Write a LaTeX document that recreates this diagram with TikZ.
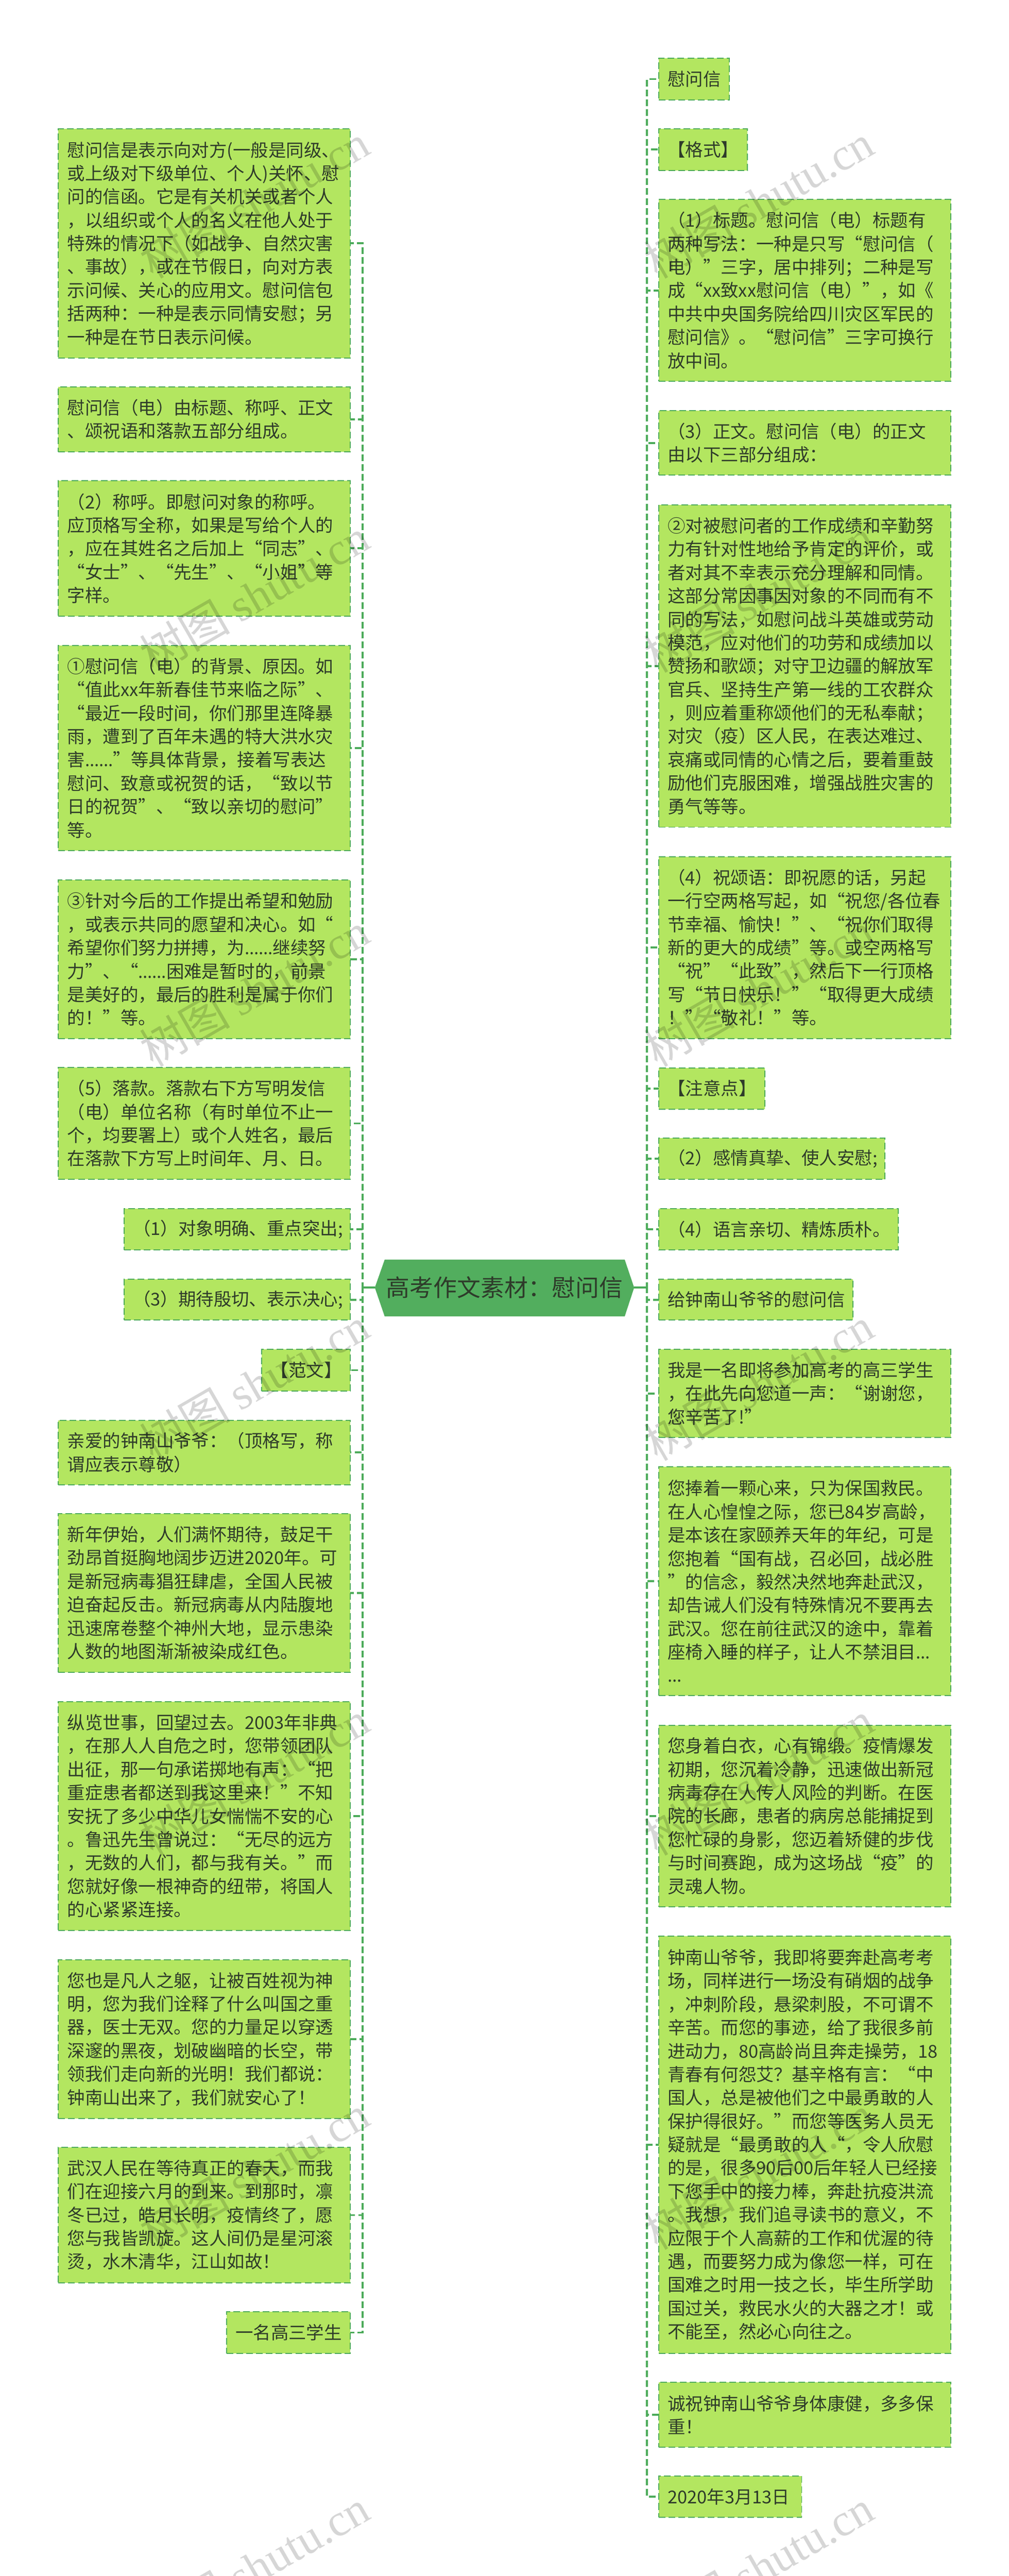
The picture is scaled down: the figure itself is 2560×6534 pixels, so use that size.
\documentclass[tikz,border=0pt]{standalone}
\usepackage{fontspec}
\setmainfont{Noto Sans CJK SC}
\newfontfamily\wmlat{Liberation Serif}
\newfontfamily\ellf{Noto Sans}
\newcommand\eld{{\ellf …}}
\definecolor{boxfill}{HTML}{B3E660}
\definecolor{linegreen}{HTML}{4CAB5A}
\definecolor{rootfill}{HTML}{52AE5E}
\definecolor{inkc}{HTML}{2E3B2A}
\tikzset{
  tnode/.style={draw=linegreen,fill=boxfill,line width=2.5pt,dash pattern=on 17pt off 8pt,
    inner xsep=23pt,inner ysep=0pt,outer sep=0pt,text=inkc,align=left,
    font=\fontsize{45}{59.3}\selectfont},
  conn/.style={draw=linegreen,line width=5pt,dash pattern=on 17pt off 8pt,dash phase=3.5pt},
  rootstub/.style={draw=linegreen,line width=5pt},
  wmark/.style={rotate=30,text=black,text opacity=0.16,font=\fontsize{115}{120}\selectfont,inner sep=0pt},
}
\newcommand\tb[6]{%
  \pgfmathsetmacro\ww{#4-#2-46}\pgfmathsetmacro\hh{#5-#3}%
  \node[tnode,text width=\ww pt,minimum height=\hh pt,anchor=north west] (#1) at (#2,#3) {#6};}
\begin{document}
\begin{tikzpicture}[x=1pt,y=-1pt]
\useasboundingbox (0,0) rectangle (2560,6534);
\fill[white] (0,0) rectangle (2560,6534);
\coordinate (lt) at (920,3266);
\coordinate (rt) at (1641.5,3266);
% left column
\tb{l1}{148}{326.6}{889}{908}{慰问信是表示向对方(一般是同级、\\或上级对下级单位、个人)关怀、慰\\问的信函。它是有关机关或者个人\\，以组织或个人的名义在他人处于\\特殊的情况下（如战争、自然灾害\\、事故），或在节假日，向对方表\\示问候、关心的应用文。慰问信包\\括两种：一种是表示同情安慰；另\\一种是在节日表示问候。}
\tb{l2}{148}{981.5}{889}{1146}{慰问信（电）由标题、称呼、正文\\、颂祝语和落款五部分组成。}
\tb{l3}{148}{1219.4}{889}{1562.5}{（2）称呼。即慰问对象的称呼。\\应顶格写全称，如果是写给个人的\\，应在其姓名之后加上“同志”、\\“女士”、“先生”、“小姐”等\\字样。}
\tb{l4}{148}{1637}{889}{2157.5}{①慰问信（电）的背景、原因。如\\“值此xx年新春佳节来临之际”、\\“最近一段时间，你们那里连降暴\\雨，遭到了百年未遇的特大洪水灾\\害\eld\eld”等具体背景，接着写表达\\慰问、致意或祝贺的话，“致以节\\日的祝贺”、“致以亲切的慰问”\\等。}
\tb{l5}{148}{2232}{889}{2635}{③针对今后的工作提出希望和勉励\\，或表示共同的愿望和决心。如“\\希望你们努力拼搏，为\eld\eld 继续努\\力”、“\eld\eld 困难是暂时的，前景\\是美好的，最后的胜利是属于你们\\的！”等。}
\tb{l6}{148}{2708}{889}{2991}{（5）落款。落款右下方写明发信\\（电）单位名称（有时单位不止一\\个，均要署上）或个人姓名，最后\\在落款下方写上时间年、月、日。}
\tb{l7}{314.5}{3066}{889}{3170}{（1）对象明确、重点突出;}
\tb{l8}{314.5}{3245}{889}{3348}{（3）期待殷切、表示决心;}
\tb{l9}{664}{3423}{889}{3528}{【范文】}
\tb{l10}{148}{3602.6}{889}{3766}{亲爱的钟南山爷爷：（顶格写，称\\谓应表示尊敬）}
\tb{l11}{148}{3839}{889}{4242}{新年伊始，人们满怀期待，鼓足干\\劲昂首挺胸地阔步迈进2020年。可\\是新冠病毒猖狂肆虐，全国人民被\\迫奋起反击。新冠病毒从内陆腹地\\迅速席卷整个神州大地，显示患染\\人数的地图渐渐被染成红色。}
\tb{l12}{148}{4316}{889}{4896.6}{纵览世事，回望过去。2003年非典\\，在那人人自危之时，您带领团队\\出征，那一句承诺掷地有声：“把\\重症患者都送到我这里来！”不知\\安抚了多少中华儿女惴惴不安的心\\。鲁迅先生曾说过：“无尽的远方\\，无数的人们，都与我有关。”而\\您就好像一根神奇的纽带，将国人\\的心紧紧连接。}
\tb{l13}{148}{4970.5}{889}{5373.7}{您也是凡人之躯，让被百姓视为神\\明，您为我们诠释了什么叫国之重\\器，医士无双。您的力量足以穿透\\深邃的黑夜，划破幽暗的长空，带\\领我们走向新的光明！我们都说：\\钟南山出来了，我们就安心了！}
\tb{l14}{148}{5447}{889}{5790}{武汉人民在等待真正的春天，而我\\们在迎接六月的到来。到那时，凛\\冬已过，皓月长明，疫情终了，愿\\您与我皆凯旋。这人间仍是星河滚\\烫，水木清华，江山如故！}
\tb{l15}{574.5}{5864}{889}{5969}{一名高三学生}
% right column
\tb{r1}{1671}{148}{1851}{253}{慰问信}
\tb{r2}{1671}{327}{1896}{432}{【格式】}
\tb{r3}{1671}{506}{2412}{967}{（1）标题。慰问信（电）标题有\\两种写法：一种是只写“慰问信（\\电）”三字，居中排列；二种是写\\成“xx致xx慰问信（电）”，如《\\中共中央国务院给四川灾区军民的\\慰问信》。“慰问信”三字可换行\\放中间。}
\tb{r4}{1671}{1042}{2412}{1205}{（3）正文。慰问信（电）的正文\\由以下三部分组成：}
\tb{r5}{1671}{1280.5}{2412}{2098}{②对被慰问者的工作成绩和辛勤努\\力有针对性地给予肯定的评价，或\\者对其不幸表示充分理解和同情。\\这部分常因事因对象的不同而有不\\同的写法，如慰问战斗英雄或劳动\\模范，应对他们的功劳和成绩加以\\赞扬和歌颂；对守卫边疆的解放军\\官兵、坚持生产第一线的工农群众\\，则应着重称颂他们的无私奉献；\\对灾（疫）区人民，在表达难过、\\哀痛或同情的心情之后，要着重鼓\\励他们克服困难，增强战胜灾害的\\勇气等等。}
\tb{r6}{1671}{2173}{2412}{2634}{（4）祝颂语：即祝愿的话，另起\\一行空两格写起，如“祝您/各位春\\节幸福、愉快！”、“祝你们取得\\新的更大的成绩”等。或空两格写\\“祝”“此致”，然后下一行顶格\\写“节日快乐！”“取得更大成绩\\！”“敬礼！”等。}
\tb{r7}{1671}{2709}{1940.6}{2813}{【注意点】}
\tb{r8}{1671}{2887}{2245.6}{2991}{（2）感情真挚、使人安慰;}
\tb{r9}{1671}{3066}{2279.6}{3170}{（4）语言亲切、精炼质朴。}
\tb{r10}{1671}{3245}{2164}{3348}{给钟南山爷爷的慰问信}
\tb{r11}{1671}{3423}{2412}{3646}{我是一名即将参加高考的高三学生\\，在此先向您道一声：“谢谢您，\\您辛苦了!”}
\tb{r12}{1671}{3720.5}{2412}{4301}{您捧着一颗心来，只为保国救民。\\在人心惶惶之际，您已84岁高龄，\\是本该在家颐养天年的年纪，可是\\您抱着“国有战，召必回，战必胜\\”的信念，毅然决然地奔赴武汉，\\却告诫人们没有特殊情况不要再去\\武汉。您在前往武汉的途中，靠着\\座椅入睡的样子，让人不禁泪目\eld\\\eld}
\tb{r13}{1671}{4376}{2412}{4836.6}{您身着白衣，心有锦缎。疫情爆发\\初期，您沉着冷静，迅速做出新冠\\病毒存在人传人风险的判断。在医\\院的长廊，患者的病房总能捕捉到\\您忙碌的身影，您迈着矫健的步伐\\与时间赛跑，成为这场战“疫”的\\灵魂人物。}
\tb{r14}{1671}{4911}{2412}{5969}{钟南山爷爷，我即将要奔赴高考考\\场，同样进行一场没有硝烟的战争\\，冲刺阶段，悬梁刺股，不可谓不\\辛苦。而您的事迹，给了我很多前\\进动力，80高龄尚且奔走操劳，18\\青春有何怨艾？基辛格有言：“中\\国人，总是被他们之中最勇敢的人\\保护得很好。”而您等医务人员无\\疑就是“最勇敢的人“，令人欣慰\\的是，很多90后00后年轻人已经接\\下您手中的接力棒，奔赴抗疫洪流\\。我想，我们追寻读书的意义，不\\应限于个人高薪的工作和优渥的待\\遇，而要努力成为像您一样，可在\\国难之时用一技之长，毕生所学助\\国过关，救民水火的大器之才！或\\不能至，然必心向往之。}
\tb{r15}{1671}{6043}{2412}{6207}{诚祝钟南山爷爷身体康健，多多保\\重！}
\tb{r16}{1671}{6280}{2034}{6385}{2020年3月13日}
% root
\fill[rootfill] (951,3266) -- (976,3195) -- (1585,3195) -- (1609,3266) -- (1585,3339) -- (976,3339) -- cycle;
\node[inner sep=0pt,minimum width=658pt,minimum height=144pt,text=inkc,font=\fontsize{60}{70}\selectfont] (root) at (1280,3266) {高考作文素材：慰问信};
% connectors
\draw[rootstub] (root.west) -- (lt);
\draw[rootstub] (root.east) -- (rt);
\foreach \n in {1,...,15} {\draw[conn] (lt) |- (l\n.east);}
\foreach \n in {1,...,16} {\draw[conn] (rt) |- (r\n.west);}
% watermark
\foreach \cx/\nx in {645/a,1925/b} {
  \foreach \cy/\ny in {510/c,1510/d,2510/e,3510/f,4510/g,5510/h,6510/i} {
    \node[wmark] (wm\nx\ny) at (\cx,\cy) {树图 {\wmlat shutu.cn}};
  }
}
\end{tikzpicture}
\end{document}
